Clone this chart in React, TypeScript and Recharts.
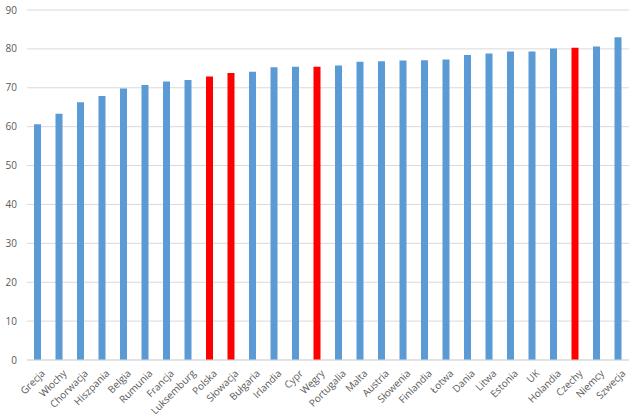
import { BarChart, Bar, XAxis, YAxis, CartesianGrid, Cell } from "recharts"

const countries = [
  "Grecja", "Włochy", "Chorwacja", "Hiszpania", "Belgia", "Rumunia", "Francja",
  "Luksemburg", "Polska", "Słowacja", "Bułgaria", "Irlandia", "Cypr", "Węgry",
  "Portugalia", "Malta", "Austria", "Słowenia", "Finlandia", "Łotwa", "Dania",
  "Litwa", "Estonia", "UK", "Holandia", "Czechy", "Niemcy", "Szwecja",
]

const values = [
  60.6, 63.3, 66.3, 67.9, 69.8, 70.7, 71.6, 72.0, 72.9, 73.8, 74.1, 75.3, 75.4, 75.4,
  75.7, 76.7, 76.8, 77.0, 77.1, 77.3, 78.4, 78.8, 79.3, 79.3, 80.1, 80.3, 80.6, 83.0,
]

const highlighted = ["Polska", "Słowacja", "Węgry", "Czechy"]

const yTicks = [0, 10, 20, 30, 40, 50, 60, 70, 80, 90]

const data = countries.map((name, i) => ({ name, value: values[i] }))

const font = "'Open Sans', 'Noto Sans', sans-serif"

export default function App() {
  return (
    <div style={{ position: "absolute", left: 0, top: 0, background: "#fff" }}>
      <BarChart
        width={640}
        height={419}
        data={data}
        margin={{ top: 10, right: 11, bottom: 0, left: 0 }}
      >
        <CartesianGrid vertical={false} stroke="#D9D9D9" />
        <XAxis
          dataKey="name"
          interval={0}
          height={59}
          axisLine={{ stroke: "#D9D9D9" }}
          tickLine={false}
          angle={-45}
          textAnchor="end"
          tick={{ fill: "#595959", fontSize: 10, fontFamily: font, dx: 3 }}
          tickMargin={3}
        />
        <YAxis
          domain={[0, 90]}
          ticks={yTicks}
          width={27}
          axisLine={false}
          tickLine={false}
          tickSize={0}
          tickMargin={10}
          tick={{ fill: "#595959", fontSize: 10, fontFamily: font }}
        />
        <Bar dataKey="value" barSize={7} isAnimationActive={false}>
          {data.map((d) => (
            <Cell
              key={d.name}
              fill={highlighted.includes(d.name) ? "#FF0000" : "#5B9BD5"}
            />
          ))}
        </Bar>
      </BarChart>
    </div>
  )
}
